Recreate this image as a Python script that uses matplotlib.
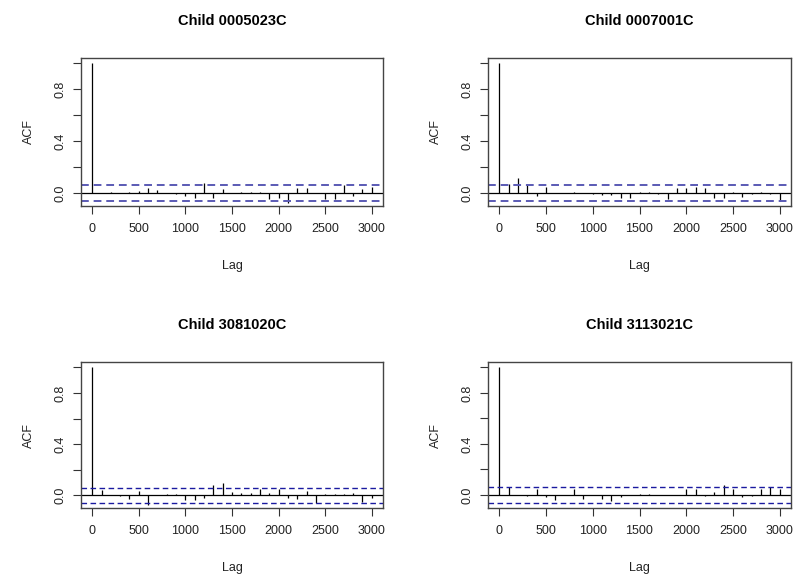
import numpy as np
import matplotlib
matplotlib.use('Agg')
import matplotlib.pyplot as plt

plt.rcParams['font.family'] = ['Liberation Sans', 'DejaVu Sans']

# Data ========================================================================
lags = list(range(0, 3001, 100))

titles = ['Child 0005023C', 'Child 0007001C', 'Child 3081020C', 'Child 3113021C']

acf_0005023C = [1.0, 0.0, 0.01, 0.0, 0.008, 0.015, 0.037, 0.02, 0.0, -0.005,
                -0.02, -0.035, 0.08, -0.035, 0.03, 0.0, 0.005, 0.004, 0.01, -0.05,
                -0.04, -0.075, 0.04, 0.04, 0.0, -0.05, -0.05, 0.06, -0.02, 0.03,
                0.05]
acf_0007001C = [1.0, 0.073, 0.115, 0.058, -0.026, 0.05, 0.0, 0.0, 0.008, 0.0,
                -0.01, -0.015, -0.015, -0.04, -0.035, 0.005, 0.01, -0.01, -0.05, 0.04,
                0.04, 0.045, 0.04, -0.035, -0.04, 0.01, -0.03, -0.01, 0.01, -0.01,
                -0.06]
acf_3081020C = [1.0, 0.045, 0.005, -0.005, -0.03, 0.03, -0.077, 0.003, 0.01, 0.01,
                -0.035, -0.035, -0.02, 0.08, 0.098, 0.025, 0.015, 0.02, 0.05, 0.02,
                0.05, -0.02, -0.03, 0.035, -0.06, 0.01, 0.01, 0.01, 0.02, -0.05,
                -0.02]
acf_3113021C = [1.0, 0.065, 0.0, -0.005, 0.05, -0.02, -0.04, 0.0, 0.05, -0.03,
                0.002, -0.03, -0.05, -0.02, 0.0, 0.01, 0.01, 0.0, 0.0, 0.0,
                0.045, 0.045, -0.01, 0.02, 0.075, 0.045, -0.02, -0.01, 0.05, 0.06,
                0.045]

ci_bounds = [0.058, 0.058, 0.057, 0.06]
ci_colors = ['#5a5ab4', '#5a5ab4', '#1a1aa0', '#1a1aa0']
ci_widths = [1.4, 1.4, 1.0, 1.0]

series = [acf_0005023C, acf_0007001C, acf_3081020C, acf_3113021C]

# Layout (pixel boxes: left, top, right, bottom) ==============================
W, H = 797, 582
boxes = [(81, 58, 383, 206), (488, 58, 791, 206),
         (81, 362, 383, 508), (488, 362, 791, 508)]

fig = plt.figure(figsize=(W / 100, H / 100), dpi=100)

for (l, t, r, b), title, acf, ci, cc, cw in zip(boxes, titles, series,
                                              ci_bounds, ci_colors, ci_widths):
    ax = fig.add_axes([l / W, 1 - b / H, (r - l) / W, (b - t) / H])
    ax.vlines(lags, 0, acf, color='black', lw=0.9)
    ax.axhline(0, color='black', lw=0.9)
    ax.axhline(ci, color=cc, lw=cw, ls=(0, (4, 2.5)))
    ax.axhline(-ci, color=cc, lw=cw, ls=(0, (4, 2.5)))
    lo = -ci
    ax.set_xlim(-120, 3120)
    ax.set_ylim(lo - 0.04 * (1 - lo), 1 + 0.04 * (1 - lo))
    ax.set_xticks([0, 500, 1000, 1500, 2000, 2500, 3000])
    ax.set_yticks([0, 0.2, 0.4, 0.6, 0.8, 1.0])
    ax.set_yticklabels(['0.0', '', '0.4', '', '0.8', ''])
    ax.tick_params(axis='both', direction='out', length=5.5, width=0.8,
                   color='#333333', labelsize=9, labelcolor='#222222')
    ax.tick_params(axis='x', pad=7)
    ax.tick_params(axis='y', pad=5)
    for lab in ax.get_yticklabels():
        lab.set_rotation(90)
        lab.set_va('center')
    for s in ax.spines.values():
        s.set_color('#444444')
        s.set_linewidth(1.0)
    ax.set_xlabel('Lag', fontsize=9, labelpad=18, color='#222222')
    ax.set_ylabel('ACF', fontsize=9, labelpad=14, color='#222222')
    ax.set_title(title, fontsize=10.5, fontweight='bold', pad=24)

plt.savefig('out.png', dpi=100)
